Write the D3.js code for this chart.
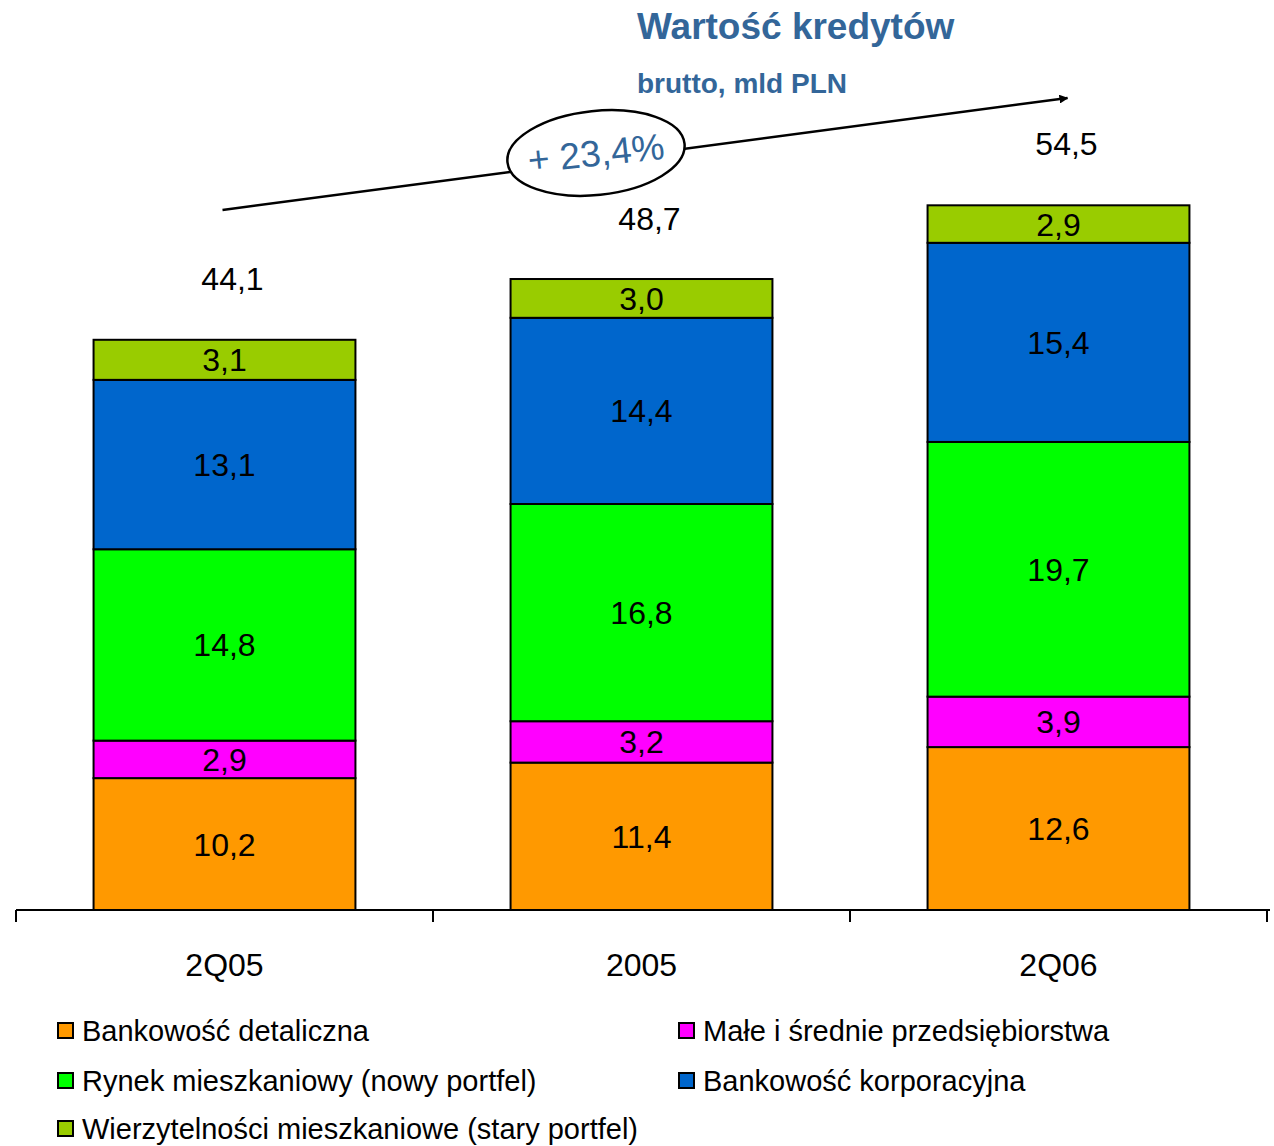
<!DOCTYPE html>
<html><head><meta charset="utf-8">
<script src="https://cdn.jsdelivr.net/npm/d3@7"></script>
<style>body{margin:0;background:#fff}svg{display:block;font-family:"Liberation Sans",Arial,sans-serif}</style>
</head><body><svg id="c" width="1274" height="1146"></svg>
<script>
const categories = ["2Q05", "2005", "2Q06"];
const detaliczna = [10.2, 11.4, 12.6];
const msp = [2.9, 3.2, 3.9];
const mieszkaniowyNowy = [14.8, 16.8, 19.7];
const korporacyjna = [13.1, 14.4, 15.4];
const staryPortfel = [3.1, 3.0, 2.9];
const totals = [44.1, 48.7, 54.5];
const seriesNames = ["Bankowość detaliczna", "Małe i średnie przedsiębiorstwa", "Rynek mieszkaniowy (nowy portfel)", "Bankowość korporacyjna", "Wierzytelności mieszkaniowe (stary portfel)"];
const growthLabel = "+ 23,4%";

const seriesValues = [detaliczna, msp, mieszkaniowyNowy, korporacyjna, staryPortfel];
const colors = ["#FF9900", "#FF00FF", "#00FF00", "#0066CC", "#99CC00"];

const svg = d3.select("#c");
const baseY = 910;
const x = d3.scaleBand().domain(categories).range([16, 1267]).paddingInner(0.372).paddingOuter(0.186);
const y = d3.scaleLinear().domain([0, 55]).range([baseY, baseY - 55 * 12.93]);

const rows = categories.map((c, i) => {
  const r = {cat: c};
  seriesNames.forEach((s, j) => r[s] = seriesValues[j][i]);
  return r;
});
const stacked = d3.stack().keys(seriesNames)(rows);

const g = svg.append("g");
stacked.forEach((layer, j) => {
  const lg = g.append("g").attr("fill", colors[j]);
  lg.selectAll("rect").data(layer).join("rect")
    .attr("x", d => x(d.data.cat))
    .attr("width", x.bandwidth())
    .attr("y", d => y(d[1]))
    .attr("height", d => y(d[0]) - y(d[1]))
    .attr("stroke", "#000").attr("stroke-width", 2);
  lg.selectAll("text").data(layer).join("text")
    .attr("x", d => x(d.data.cat) + x.bandwidth() / 2)
    .attr("y", d => (y(d[0]) + y(d[1])) / 2)
    .attr("dy", "0.36em")
    .attr("text-anchor", "middle")
    .attr("fill", "#000").attr("font-size", 32)
    .text(d => d3.format(".1f")(d[1] - d[0]).replace(".", ","));
});

// totals
svg.append("g").selectAll("text").data(categories).join("text")
  .attr("x", (c) => x(c) + x.bandwidth() / 2 + 8)
  .attr("y", (c, i) => y(totals[i]) - 50)
  .attr("text-anchor", "middle").attr("font-size", 32).attr("fill", "#000")
  .text((c, i) => String(totals[i]).replace(".", ","));

// axis
const step = x.step();
const bounds = categories.map(c => x(c) - step * 0.186).concat([x(categories[2]) + x.bandwidth() + step * 0.186]);
const ax = svg.append("g");
ax.append("line").attr("x1", bounds[0]).attr("x2", 1270).attr("y1", baseY).attr("y2", baseY).attr("stroke", "#000").attr("stroke-width", 2);
ax.selectAll("line.t").data(bounds).join("line").attr("class", "t")
  .attr("x1", d => d).attr("x2", d => d).attr("y1", baseY).attr("y2", baseY + 12)
  .attr("stroke", "#000").attr("stroke-width", 2);
const xa = svg.append("g").attr("transform", `translate(0,${baseY})`)
  .call(d3.axisBottom(x).tickSize(0).tickPadding(0));
xa.select(".domain").remove();
xa.selectAll("text").attr("font-size", 32).attr("fill", "#000")
  .attr("font-family", "Liberation Sans, Arial, sans-serif").attr("dy", null).attr("y", 66);

// title
svg.append("text").attr("x", 637).attr("y", 39).attr("font-size", 37).attr("font-weight", "bold").attr("fill", "#336699").text("Wartość kredytów");
svg.append("text").attr("x", 637).attr("y", 93).attr("font-size", 28).attr("font-weight", "bold").attr("fill", "#336699").text("brutto, mld PLN");

// arrow
const defs = svg.append("defs");
defs.append("marker").attr("id", "ah").attr("viewBox", "0 0 10 10").attr("refX", 9).attr("refY", 5)
  .attr("markerWidth", 9).attr("markerHeight", 9).attr("markerUnits", "userSpaceOnUse").attr("orient", "auto")
  .append("path").attr("d", "M0,0L10,5L0,10z").attr("fill", "#000");
const x0 = x(categories[0]) + x.bandwidth() / 2, x2 = x(categories[2]) + x.bandwidth() / 2;
svg.append("line").attr("x1", x0 - 2).attr("y1", 210).attr("x2", x2 + 9).attr("y2", 98)
  .attr("stroke", "#000").attr("stroke-width", 2.5).attr("marker-end", "url(#ah)");
const eg = svg.append("g").attr("transform", "translate(596,153) rotate(-6)");
eg.append("ellipse").attr("rx", 89).attr("ry", 42).attr("fill", "#fff").attr("stroke", "#000").attr("stroke-width", 2.5);
eg.append("text").attr("text-anchor", "middle").attr("y", 13).attr("font-size", 37).attr("fill", "#336699").text(growthLabel);

// legend
const legendPos = [[58, 1031], [679, 1031], [58, 1081], [679, 1081], [58, 1129]];
const lg = svg.append("g");
seriesNames.forEach((s, i) => {
  const [lx, ly] = legendPos[i];
  lg.append("rect").attr("x", lx).attr("y", ly - 8).attr("width", 15).attr("height", 15)
    .attr("fill", colors[i]).attr("stroke", "#000").attr("stroke-width", 2);
  lg.append("text").attr("x", lx + 24).attr("y", ly + 10).attr("font-size", 29).attr("fill", "#000").text(s);
});
</script></body></html>
